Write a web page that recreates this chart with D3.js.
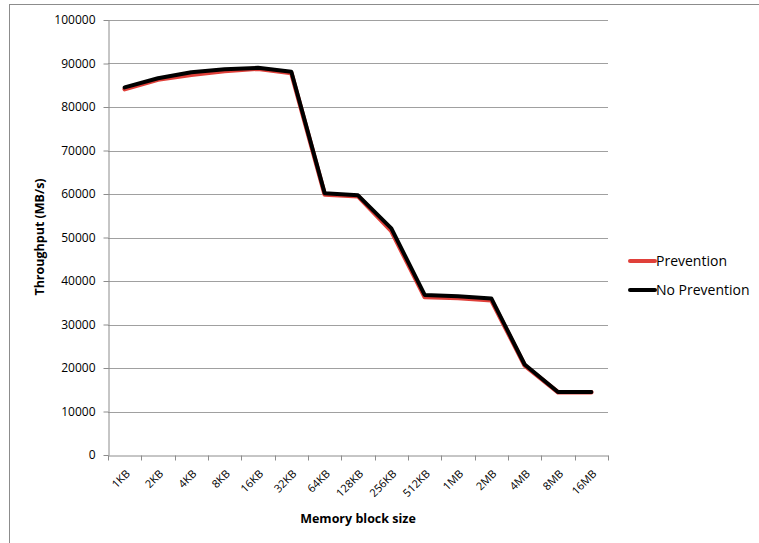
<!DOCTYPE html>
<html><head><meta charset="utf-8">
<script src="https://cdn.jsdelivr.net/npm/d3@7"></script>
<style>body{margin:0;background:#fff}svg{display:block}</style>
</head><body><svg id="c" width="759" height="543"></svg>
<script>
const categories = ["1KB","2KB","4KB","8KB","16KB","32KB","64KB","128KB","256KB","512KB","1MB","2MB","4MB","8MB","16MB"];
const prevention = [84100,86300,87400,88300,88800,87800,59900,59500,51500,36300,36100,35600,20600,14400,14400];
const noPrevention = [84500,86600,88000,88700,89000,88100,60200,59700,52100,36800,36500,36000,20800,14500,14500];
const yTicks = [0,10000,20000,30000,40000,50000,60000,70000,80000,90000,100000];
const seriesNames = ["Prevention","No Prevention"];
const seriesColors = ["#e0403a","#000000"];

const svg = d3.select("#c");
const font = "'Open Sans', sans-serif";
svg.append("rect").attr("x",9.5).attr("y",4.5).attr("width",800).attr("height",600)
  .attr("fill","none").attr("stroke","#8c8c8c").attr("stroke-width",1);

const L=108, R=608, T=20, B=455;
const x = d3.scaleBand().domain(categories).range([L,R]);
const y = d3.scaleLinear().domain([0,100000]).range([B,T]);

// gridlines
svg.append("g").selectAll("line").data(yTicks.filter(d=>d>0)).join("line")
  .attr("x1",L).attr("x2",R).attr("y1",d=>Math.round(y(d))+0.5).attr("y2",d=>Math.round(y(d))+0.5)
  .attr("stroke","#a0a0a0").attr("stroke-width",1);

// y axis
const ya = svg.append("g").attr("transform",`translate(${L+0.5},0)`)
  .call(d3.axisLeft(y).tickValues(yTicks).tickFormat(d3.format("d")).tickSize(5).tickPadding(8).tickSizeOuter(0));
ya.select(".domain").attr("stroke","#8c8c8c");
ya.selectAll(".tick line").attr("stroke","#8c8c8c");
ya.selectAll("text").attr("font-family",font).attr("font-size",12).attr("fill","#000");

// x axis
const xa = svg.append("g").attr("transform",`translate(0,${B+0.5})`)
  .call(d3.axisBottom(x).tickSize(0).tickSizeOuter(0));
xa.select(".domain").attr("stroke","#8c8c8c");
const bounds = categories.map(c=>x(c)).concat([R]);
xa.selectAll(".bt").data(bounds).join("line").attr("class","bt")
  .attr("x1",d=>Math.round(d)+0.5).attr("x2",d=>Math.round(d)+0.5).attr("y1",0).attr("y2",5)
  .attr("stroke","#8c8c8c");
xa.selectAll(".tick text").attr("font-family",font).attr("font-size",11).attr("fill","#000")
  .attr("text-anchor","end").attr("dy",null).attr("y",0)
  .attr("transform","translate(6,19) rotate(-45)");

// lines
const line = d3.line().x((d,i)=>x(categories[i])+x.bandwidth()/2).y(d=>y(d)).curve(d3.curveLinear);
svg.append("path").datum(prevention).attr("d",line).attr("fill","none")
  .attr("stroke",seriesColors[0]).attr("stroke-width",4.5).attr("stroke-linejoin","round").attr("stroke-linecap","round");
svg.append("path").datum(noPrevention).attr("d",line).attr("fill","none")
  .attr("stroke",seriesColors[1]).attr("stroke-width",4).attr("stroke-linejoin","round").attr("stroke-linecap","round");

// axis titles
svg.append("text").attr("x",358).attr("y",523).attr("text-anchor","middle")
  .attr("font-family",font).attr("font-size",12.5).attr("font-weight","bold").text("Memory block size");
svg.append("text").attr("transform","translate(44,237) rotate(-90)").attr("text-anchor","middle")
  .attr("font-family",font).attr("font-size",12.5).attr("font-weight","bold").text("Throughput (MB/s)");

// legend
const lg = svg.append("g");
seriesNames.forEach((n,i)=>{
  const yy = 261 + i*29;
  lg.append("line").attr("x1",630).attr("x2",655).attr("y1",yy).attr("y2",yy)
    .attr("stroke",seriesColors[i]).attr("stroke-width",4).attr("stroke-linecap","round");
  lg.append("text").attr("x",656).attr("y",yy+5).attr("font-family",font).attr("font-size",14).text(n);
});
</script></body></html>
